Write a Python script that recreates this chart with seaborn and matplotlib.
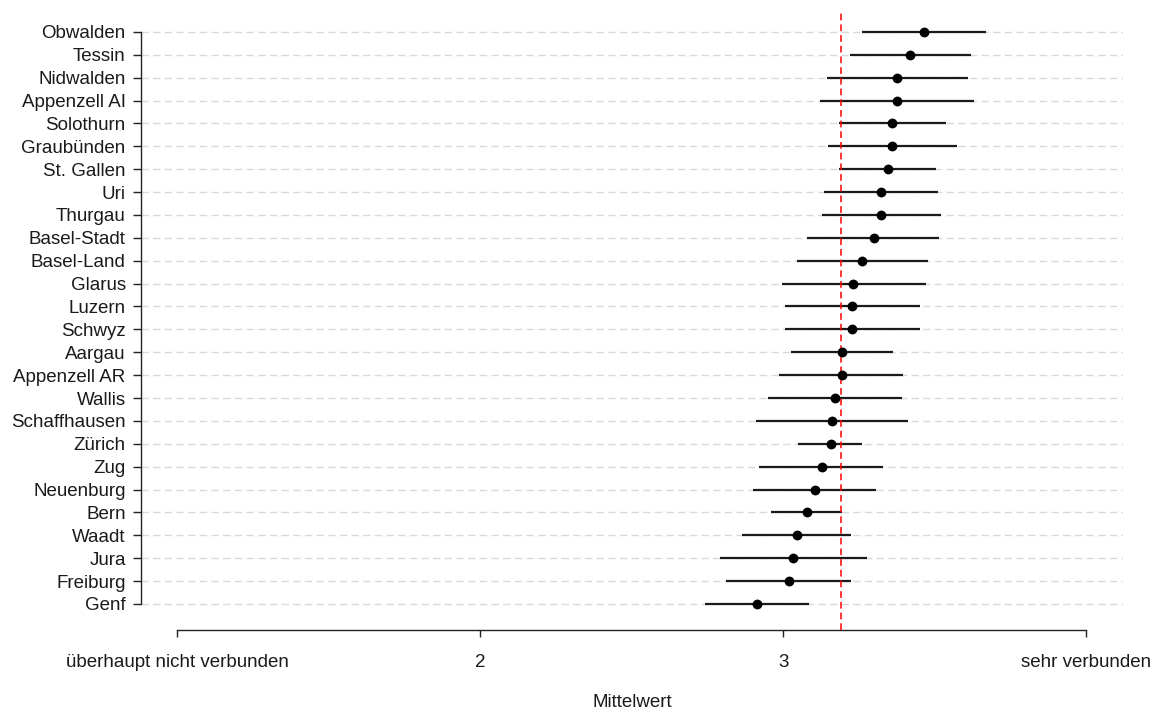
import numpy as np
import pandas as pd
import matplotlib
matplotlib.use("Agg")
import matplotlib.pyplot as plt
import seaborn as sns

cantons = ["Obwalden", "Tessin", "Nidwalden", "Appenzell AI", "Solothurn", "Graubünden",
           "St. Gallen", "Uri", "Thurgau", "Basel-Stadt", "Basel-Land", "Glarus", "Luzern",
           "Schwyz", "Aargau", "Appenzell AR", "Wallis", "Schaffhausen", "Zürich", "Zug",
           "Neuenburg", "Bern", "Waadt", "Jura", "Freiburg", "Genf"]
mean_vals = [3.466, 3.418, 3.376, 3.376, 3.361, 3.361, 3.348, 3.323, 3.323, 3.299, 3.262,
             3.232, 3.229, 3.229, 3.195, 3.195, 3.171, 3.162, 3.157, 3.129, 3.104, 3.080,
             3.047, 3.033, 3.019, 2.914]
ci_low = [3.260, 3.222, 3.145, 3.121, 3.185, 3.150, 3.185, 3.135, 3.128, 3.079, 3.046,
          2.998, 3.008, 3.008, 3.026, 2.988, 2.950, 2.912, 3.051, 2.922, 2.902, 2.959,
          2.865, 2.793, 2.812, 2.742]
ci_high = [3.669, 3.620, 3.612, 3.630, 3.539, 3.573, 3.506, 3.512, 3.520, 3.516, 3.478,
           3.473, 3.453, 3.453, 3.363, 3.397, 3.392, 3.411, 3.260, 3.330, 3.306, 3.195,
           3.225, 3.278, 3.225, 3.087]
overall_mean = 3.191
x_ticks = [1, 2, 3, 4]
x_ticklabels = ["überhaupt nicht verbunden", "2", "3", "sehr verbunden"]
x_label = "Mittelwert"

df = pd.DataFrame({"Kanton": cantons, "Mittelwert": mean_vals,
                   "lo": ci_low, "hi": ci_high})

sns.set_theme(style="white")
plt.rcParams["font.family"] = ["Liberation Sans", "DejaVu Sans"]

fig = plt.figure(figsize=(11.54, 7.11), dpi=100)
ax = fig.add_axes([141 / 1154, 1 - 630 / 711, (1123 - 141) / 1154, (630 - 12.5) / 711])

pos = np.arange(len(cantons))
ax.hlines(pos, df["lo"], df["hi"], color="#1a1a1a", linewidth=1.6, zorder=2)
ax.axvline(overall_mean, color="#ff0000", linewidth=1.1,
           linestyle=(0, (4.4, 2.6)), zorder=3)
sns.scatterplot(data=df, x="Mittelwert", y="Kanton", color="black", s=50,
                edgecolor="black", linewidth=0, zorder=4, ax=ax)

ax.set_xlim(0.881, 4.122)
ax.set_ylim(len(cantons) - 1 + 1.14, -0.85)

ax.set_yticks(pos)
ax.set_yticklabels(cantons)
ax.set_xticks(x_ticks)
ax.set_xticklabels(x_ticklabels)
ax.set_xlabel(x_label, fontsize=13.5, color="#1a1a1a", labelpad=17)
ax.set_ylabel("")

ax.set_axisbelow(True)
ax.yaxis.grid(True, color="#d9d9d9", linewidth=1.0, linestyle=(0, (5.3, 3.1)))
ax.xaxis.grid(False)

for s in ["top", "right"]:
    ax.spines[s].set_visible(False)
ax.spines["left"].set_bounds(0, len(cantons) - 1)
ax.spines["bottom"].set_bounds(1, 4)
for s in ["left", "bottom"]:
    ax.spines[s].set_color("#222222")
    ax.spines[s].set_linewidth(1.0)

ax.tick_params(axis="y", which="major", left=True, length=6, width=1.0,
               color="#222222", pad=5, labelsize=13.5, labelcolor="#1a1a1a")
ax.tick_params(axis="x", which="major", bottom=True, length=5, width=1.0,
               color="#222222", pad=12, labelsize=13.5, labelcolor="#1a1a1a")

fig.savefig("out.png", dpi=100)
